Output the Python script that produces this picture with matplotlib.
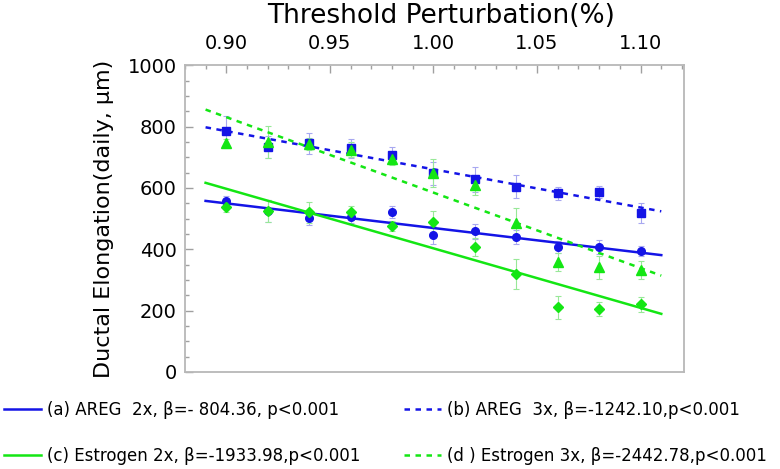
import numpy as np
import matplotlib.pyplot as plt
from matplotlib.ticker import MultipleLocator

# threshold perturbation levels
x = [0.90, 0.92, 0.94, 0.96, 0.98, 1.00, 1.02, 1.04, 1.06, 1.08, 1.10]

# ductal elongation (daily, um) and error bars
areg2 = [556, 525, 502, 506, 521, 446, 458, 440, 407, 407, 393]
areg2_err = [16, 37, 24, 22, 20, 30, 24, 22, 20, 22, 16]
areg3 = [785, 734, 745, 729, 707, 647, 628, 604, 582, 586, 519]
areg3_err = [49, 35, 33, 30, 25, 36, 41, 38, 22, 20, 33]
estr2 = [538, 525, 520, 522, 476, 488, 408, 319, 211, 205, 220]
estr2_err = [16, 35, 35, 18, 15, 38, 30, 50, 38, 22, 25]
estr3 = [745, 749, 743, 725, 694, 649, 608, 486, 359, 341, 332]
estr3_err = [15, 53, 20, 25, 20, 45, 30, 47, 30, 38, 30]

labels = ['(a) AREG  2x, \u03b2=- 804.36, p<0.001',
          '(b) AREG  3x, \u03b2=-1242.10,p<0.001',
          '(c) Estrogen 2x, \u03b2=-1933.98,p<0.001',
          '(d ) Estrogen 3x, \u03b2=-2442.78,p<0.001']

blue = '#1414e6'
green = '#14e614'
lblue = '#a8a8f0'
lgreen = '#98e898'

fig = plt.figure(figsize=(7.8, 4.69), dpi=100)
ax = fig.add_axes([0.237, 0.207, 0.64, 0.654])

xfit = np.array([0.89, 1.11])
series = [
    (areg2, areg2_err, 'o', 5.5, blue, lblue, '-', labels[0]),
    (areg3, areg3_err, 's', 5.5, blue, lblue, (0, (2.2, 2.2)), labels[1]),
    (estr2, estr2_err, 'D', 5, green, lgreen, '-', labels[2]),
    (estr3, estr3_err, '^', 7.5, green, lgreen, (0, (2.2, 2.2)), labels[3]),
]
handles = []
for ys, err, mk, ms, c, ec, ls, lab in series:
    ax.errorbar(x, ys, yerr=err, fmt='none', ecolor=ec, elinewidth=0.8,
                capsize=2.5, capthick=0.8, zorder=2)
    ax.plot(x, ys, mk, color=c, ms=ms, mec=c, zorder=4)
    k, b = np.polyfit(x, ys, 1)
    h, = ax.plot(xfit, k * xfit + b, color=c, lw=1.8, ls=ls, zorder=3, label=lab)
    handles.append(h)

ax.set_xlim(0.88, 1.121)
ax.set_ylim(0, 1000)
ax.xaxis.set_major_locator(MultipleLocator(0.05))
ax.xaxis.set_minor_locator(MultipleLocator(0.01))
ax.yaxis.set_major_locator(MultipleLocator(200))
ax.yaxis.set_minor_locator(MultipleLocator(50))
ax.xaxis.set_major_formatter(plt.FuncFormatter(lambda v, p: '%.2f' % v))

ax.tick_params(axis='x', which='both', direction='in', top=True, bottom=False,
               labeltop=True, labelbottom=False, colors='#a0a0a0',
               labelcolor='black', labelsize=14, pad=9)
ax.tick_params(axis='y', which='both', direction='in', left=True, right=False,
               colors='#a0a0a0', labelcolor='black', labelsize=14, pad=6)
ax.tick_params(which='major', length=6, width=1)
ax.tick_params(which='minor', length=3, width=1)
for sp in ax.spines.values():
    sp.set_color('#b8b8b8')
    sp.set_linewidth(1.3)

ax.set_ylabel('Ductal Elongation(daily, \u03bcm)', fontsize=16, labelpad=10)
fig.text(0.565, 0.965, 'Threshold Perturbation(%)', fontsize=19,
         ha='center', va='center')

order = [handles[0], handles[2], handles[1], handles[3]]
fig.legend(order, [h.get_label() for h in order], loc='lower left',
           bbox_to_anchor=(-0.014, -0.024), ncol=2, frameon=False,
           fontsize=12, handlelength=2.2, handletextpad=0.4,
           columnspacing=2.6, labelspacing=1.7)

fig.savefig('out.png', dpi=100)
